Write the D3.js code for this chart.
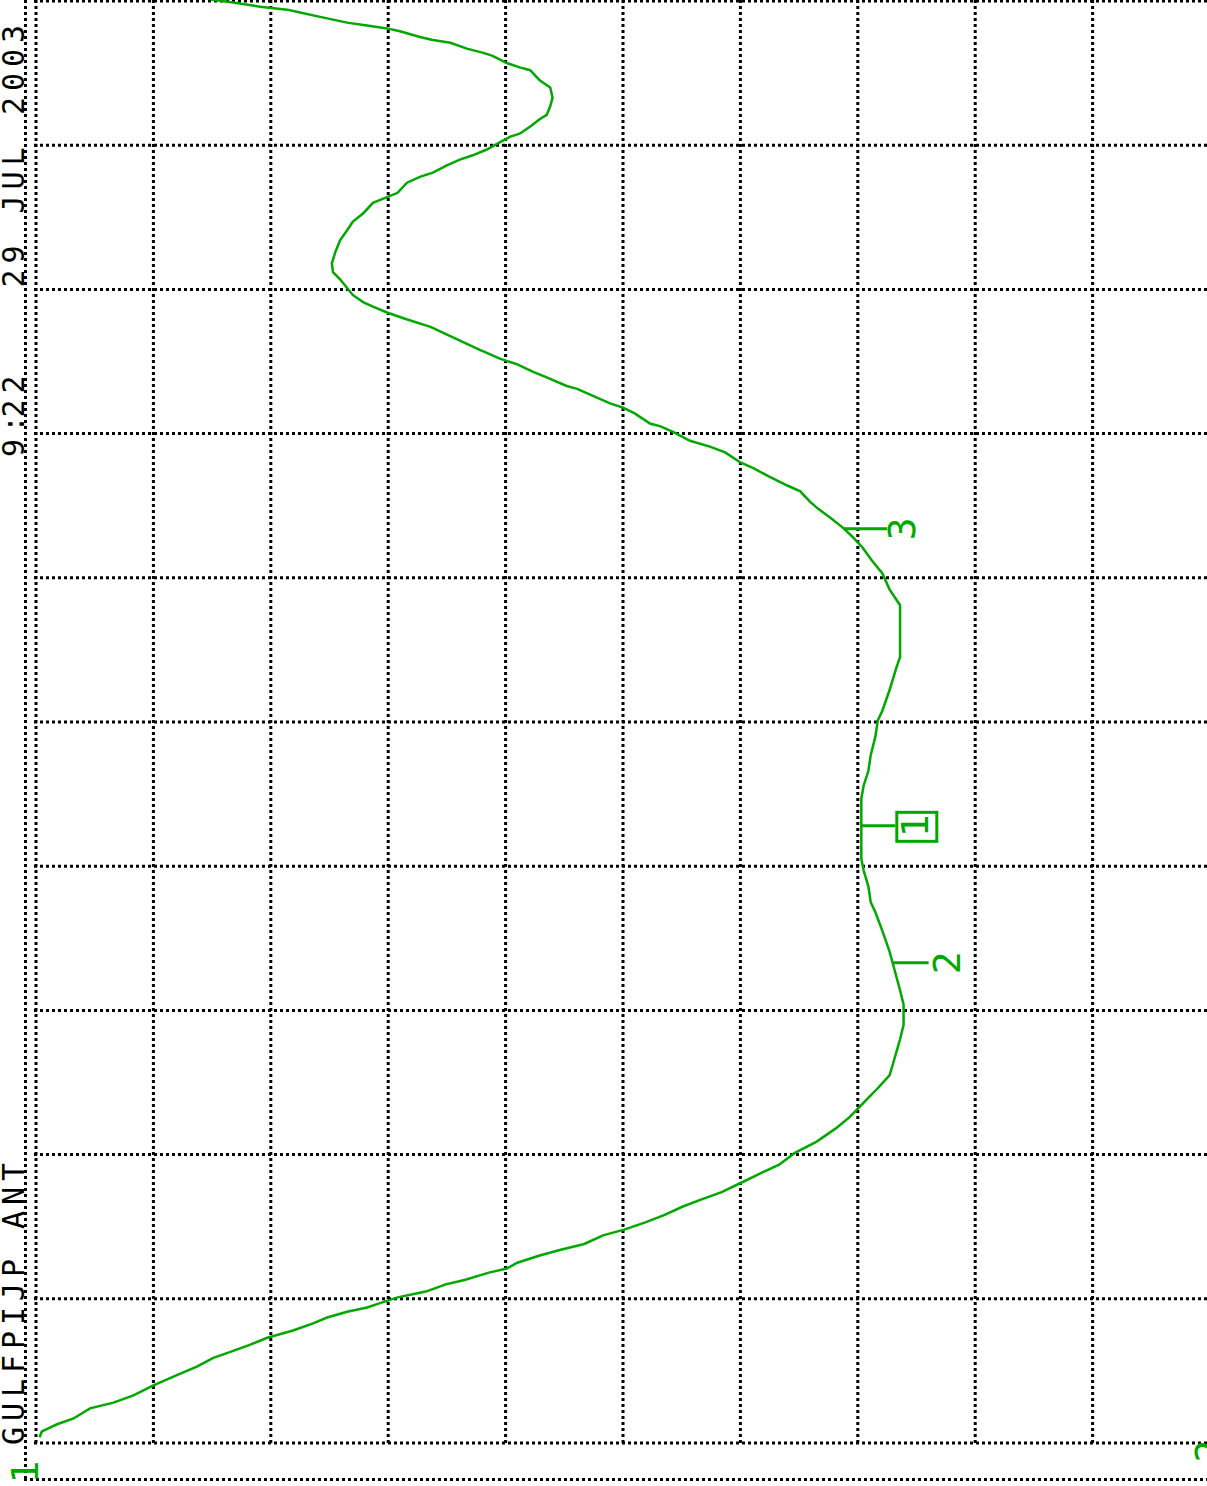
<!DOCTYPE html>
<html><head><meta charset="utf-8">
<script src="https://cdn.jsdelivr.net/npm/d3@7"></script>
<style>html,body{margin:0;padding:0;background:#fff;overflow:hidden;} svg{display:block;}</style>
</head><body><div id="chart"></div>
<script>
// ---- data (grid divisions: sweep from bottom, level from left) ----
const sweep = [0.04,0.08,0.13,0.17,0.24,0.28,0.33,0.40,0.47,0.53,0.59,0.63,0.68,0.73,0.78,0.83,0.87,0.91,0.94,0.97,
  1.01,1.05,1.10,1.13,1.18,1.21,1.25,1.30,1.34,1.38,1.44,1.48,1.53,1.58,1.64,1.69,1.74,1.81,1.87,1.93,
  2.01,2.09,2.18,2.26,2.31,2.36,2.41,2.46,2.55,2.63,2.80,2.90,3.04,3.14,3.23,3.32,3.41,3.55,3.68,3.75,
  3.86,3.97,4.05,4.28,4.47,4.56,4.66,4.77,4.90,5.01,5.08,5.22,5.38,5.45,5.64,5.81,5.92,6.03,6.12,6.21,
  6.28,6.35,6.42,6.48,6.53,6.60,6.64,6.70,6.76,6.80,6.87,6.91,6.95,7.01,7.05,7.07,7.14,7.18,7.21,7.27,
  7.31,7.33,7.39,7.43,7.48,7.52,7.56,7.58,7.66,7.74,7.80,7.84,7.88,7.91,7.96,8.01,8.07,8.12,8.18,8.26,
  8.34,8.41,8.47,8.53,8.60,8.64,8.67,8.74,8.78,8.81,8.86,8.90,8.93,8.97,9.02,9.06,9.08,9.13,9.18,9.21,
  9.27,9.33,9.40,9.45,9.52,9.54,9.57,9.62,9.64,9.67,9.71,9.73,9.75,9.79,9.81,9.83,9.85,9.89,9.92,9.94,
  9.96,9.99,10.01];
const level = [0.03,0.05,0.18,0.32,0.46,0.66,0.83,1.00,1.20,1.37,1.51,1.65,1.82,1.97,2.19,2.36,2.48,2.65,2.82,2.93,
  3.08,3.32,3.49,3.65,3.85,4.01,4.10,4.29,4.47,4.67,4.83,5.01,5.19,5.35,5.51,5.67,5.84,6.02,6.17,6.33,
  6.46,6.65,6.81,6.93,6.99,7.05,7.11,7.17,7.27,7.30,7.36,7.39,7.39,7.36,7.33,7.30,7.27,7.21,7.15,7.11,
  7.09,7.05,7.03,7.03,7.03,7.05,7.09,7.11,7.15,7.17,7.21,7.27,7.33,7.36,7.36,7.36,7.27,7.21,7.12,7.04,
  6.96,6.87,6.76,6.66,6.59,6.51,6.40,6.25,6.11,6.00,5.87,5.74,5.57,5.43,5.32,5.23,5.10,5.00,4.89,4.72,
  4.61,4.52,4.35,4.23,4.10,3.95,3.84,3.78,3.57,3.36,3.13,2.99,2.87,2.79,2.70,2.65,2.59,2.53,2.52,2.55,
  2.59,2.65,2.70,2.79,2.87,2.99,3.08,3.16,3.27,3.38,3.50,3.61,3.72,3.84,3.95,4.04,4.12,4.21,4.29,4.35,
  4.38,4.40,4.38,4.29,4.21,4.12,4.01,3.89,3.81,3.67,3.53,3.38,3.27,3.10,2.99,2.82,2.65,2.42,2.25,2.14,
  1.91,1.68,1.49];
const gridDivs = [0,1,2,3,4,5,6,7,8,9,10];
const markerSweep = [6.34, 4.28, 3.33];
const markerLabels = ["3", "1", "2"];
const activeMarker = "1";
const titleWords = ["9:", "22", "29", "JUL", "2003"];
const antLabel = "GULFPIJP ANT";
const refLabels = ["1", "2"];

// ---- layout / style ----
const W = 1207, H = 1486;
const GREEN = "#00a800";
const FONT = "'DejaVu Sans Mono', 'Liberation Mono', monospace";
const titleOffsets = [3, 42.5, 172.5, 246.5, 345];
const markerFlag = {"3": 43, "1": 34, "2": 36};
const markerGap = {"3": 0, "1": 5, "2": 4};
const CAP = 27.7;

const svg = d3.select("#chart").append("svg").attr("width", W).attr("height", H)
  .style("background", "#fff");

const x = d3.scaleLinear().domain([0, 10]).range([36, 1210]);
const y = d3.scaleLinear().domain([0, 10]).range([1443, 1]);

const dotted = sel => sel.attr("stroke", "#000").attr("stroke-width", 3)
  .attr("stroke-dasharray", "3 3").attr("fill", "none");

// grid
const g = svg.append("g");
g.selectAll("line.v").data(gridDivs).join("line").attr("class", "v")
  .attr("x1", d => x(d)).attr("x2", d => x(d)).attr("y1", y(10) - 1).attr("y2", y(0) + 1)
  .call(dotted);
g.selectAll("line.h").data(gridDivs).join("line").attr("class", "h")
  .attr("x1", x(0) - 2).attr("x2", W).attr("y1", d => y(d)).attr("y2", d => y(d))
  .call(dotted);
// outer frame (left & bottom)
g.append("line").attr("x1", x(0) - 10.5).attr("x2", x(0) - 10.5).attr("y1", 0).attr("y2", y(0) + 38).call(dotted);
g.append("line").attr("x1", x(0) - 12).attr("x2", W).attr("y1", y(0) + 36.5).attr("y2", y(0) + 36.5).call(dotted);

// trace
const pts = sweep.map((s, i) => [s, level[i]]);
svg.append("path").datum(pts)
  .attr("d", d3.line().x(d => x(d[1])).y(d => y(d[0])))
  .attr("fill", "none").attr("stroke", GREEN).attr("stroke-width", 2.5)
  .attr("stroke-linejoin", "miter");

// markers
const levelAt = s => {
  let i = d3.bisectLeft(sweep, s);
  i = Math.max(1, Math.min(sweep.length - 1, i));
  const t = (s - sweep[i - 1]) / (sweep[i] - sweep[i - 1]);
  return level[i - 1] + t * (level[i] - level[i - 1]);
};
markerSweep.forEach((s, i) => {
  const lab = markerLabels[i];
  const mx = x(levelAt(s)), my = y(s);
  const end = mx + markerFlag[lab];
  svg.append("line").attr("x1", mx).attr("x2", end).attr("y1", my).attr("y2", my)
    .attr("stroke", GREEN).attr("stroke-width", 3);
  if (lab === activeMarker) {
    svg.append("rect").attr("x", end + 1.5).attr("y", my - 13.5).attr("width", 40).attr("height", 29)
      .attr("fill", "none").attr("stroke", GREEN).attr("stroke-width", 3);
  }
  svg.append("text").attr("transform", `translate(${end + markerGap[lab] + CAP},${my}) rotate(-90)`)
    .attr("text-anchor", "middle").attr("font-family", FONT).attr("font-size", 38)
    .attr("fill", GREEN).text(lab);
});

// reference indicators at the bottom
svg.append("text").attr("transform", `translate(${x(0) + 2},${y(0) + 29}) rotate(-90)`)
  .attr("text-anchor", "middle").attr("font-family", FONT).attr("font-size", 38)
  .attr("fill", GREEN).text(refLabels[0]);
svg.append("text").attr("transform", `translate(${x(10) + 12},${y(0) + 8}) rotate(-90)`)
  .attr("text-anchor", "middle").attr("font-family", FONT).attr("font-size", 38)
  .attr("fill", GREEN).text(refLabels[1]);

// left labels
const title = svg.append("text").attr("transform", "translate(23.5,460) rotate(-90)")
  .attr("font-family", FONT).attr("font-size", 30).attr("fill", "#000")
  .style("letter-spacing", "5.94px");
titleWords.forEach((w, i) => title.append("tspan").attr("x", titleOffsets[i]).attr("y", 0).text(w));

svg.append("text").attr("transform", "translate(23.5,1460) rotate(-90)")
  .attr("x", 15).attr("font-family", FONT).attr("font-size", 30).attr("fill", "#000")
  .style("letter-spacing", "5.94px").style("white-space", "pre").text(antLabel);
</script>
</body></html>
